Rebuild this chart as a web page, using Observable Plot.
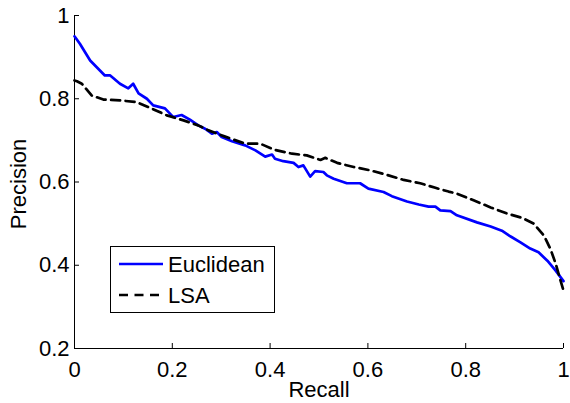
<!DOCTYPE html>
<html><head><meta charset="utf-8">
<script src="https://cdn.jsdelivr.net/npm/d3@7"></script>
<script src="https://cdn.jsdelivr.net/npm/@observablehq/plot@0.6"></script>
<style>
body{margin:0;background:#fff;}
svg{font-family:"Liberation Sans",Arial,Helvetica,sans-serif;}
</style>
</head><body><div id="chart"></div>
<script>
// Euclidean curve (recall, precision)
const recallEuclid = [0, 0.011, 0.032, 0.052, 0.062, 0.073, 0.093, 0.110, 0.120, 0.131, 0.148, 0.161, 0.185, 0.202, 0.219, 0.236, 0.253, 0.267, 0.281, 0.291, 0.301, 0.322, 0.349, 0.370, 0.390, 0.404, 0.410, 0.427, 0.448, 0.458, 0.468, 0.482, 0.492, 0.509, 0.516, 0.530, 0.557, 0.584, 0.601, 0.632, 0.649, 0.680, 0.704, 0.724, 0.738, 0.748, 0.769, 0.782, 0.823, 0.851, 0.874, 0.892, 0.912, 0.932, 0.949, 0.967, 0.984, 1.0];
const precEuclid = [0.950, 0.932, 0.892, 0.868, 0.856, 0.856, 0.836, 0.825, 0.836, 0.813, 0.800, 0.784, 0.777, 0.756, 0.761, 0.750, 0.736, 0.728, 0.716, 0.720, 0.708, 0.698, 0.688, 0.676, 0.661, 0.666, 0.656, 0.650, 0.646, 0.636, 0.640, 0.613, 0.626, 0.624, 0.616, 0.608, 0.597, 0.597, 0.584, 0.576, 0.566, 0.553, 0.546, 0.541, 0.541, 0.532, 0.530, 0.520, 0.503, 0.493, 0.483, 0.469, 0.455, 0.440, 0.431, 0.411, 0.387, 0.362];
// LSA curve
const recallLSA = [0, 0.005, 0.015, 0.035, 0.059, 0.093, 0.127, 0.155, 0.189, 0.223, 0.253, 0.274, 0.308, 0.349, 0.380, 0.410, 0.445, 0.475, 0.503, 0.513, 0.537, 0.571, 0.605, 0.639, 0.673, 0.707, 0.738, 0.765, 0.782, 0.816, 0.851, 0.885, 0.915, 0.939, 0.960, 0.973, 0.984, 0.994, 1.0];
const precLSA = [0.844, 0.842, 0.836, 0.808, 0.798, 0.796, 0.792, 0.778, 0.760, 0.748, 0.736, 0.724, 0.709, 0.692, 0.692, 0.677, 0.668, 0.664, 0.653, 0.658, 0.646, 0.636, 0.628, 0.617, 0.605, 0.597, 0.586, 0.577, 0.572, 0.556, 0.539, 0.524, 0.514, 0.500, 0.471, 0.440, 0.404, 0.363, 0.339];

const xTicks = [0, 0.2, 0.4, 0.6, 0.8, 1];
const yTicks = [0.2, 0.4, 0.6, 0.8, 1];
const seriesNames = ["Euclidean", "LSA"];
const xLabel = "Recall";
const yLabel = "Precision";

const euclid = recallEuclid.map((r, i) => ({r, p: precEuclid[i]}));
const lsa = recallLSA.map((r, i) => ({r, p: precLSA[i]}));

const FS = 22;
const chart = Plot.plot({
  width: 570, height: 403,
  marginLeft: 74, marginRight: 7, marginTop: 15, marginBottom: 55,
  style: {fontFamily: '"Liberation Sans", Arial, sans-serif', fontSize: FS + "px", color: "#000", background: "#fff", overflow: "visible"},
  x: {domain: [0, 1]},
  y: {domain: [0.2, 1]},
  marks: [
    Plot.ruleX([0], {stroke: "#000", strokeWidth: 1}),
    Plot.ruleY([0.2], {stroke: "#000", strokeWidth: 1}),
    Plot.axisX({ticks: xTicks, tickFormat: d => String(d), tickSize: -5, tickPadding: 18, fontSize: FS, label: null, stroke: "#000"}),
    Plot.axisY({ticks: yTicks, tickFormat: d => String(d), tickSize: -5, tickPadding: 10, fontSize: FS, label: null, stroke: "#000"}),
    Plot.line(euclid, {x: "r", y: "p", stroke: "#0000ff", strokeWidth: 2.7}),
    Plot.line(lsa, {x: "r", y: "p", stroke: "#000", strokeWidth: 2.7, strokeDasharray: "9,5.5"})
  ]
});
document.getElementById("chart").appendChild(chart);

const svg = d3.select(chart);
// axis titles
svg.append("text").attr("x", 319).attr("y", 397).attr("text-anchor", "middle")
  .attr("font-size", FS).attr("fill", "#000").text(xLabel);
svg.append("text").attr("transform", "translate(26,184) rotate(-90)").attr("text-anchor", "middle")
  .attr("font-size", FS).attr("fill", "#000").text(yLabel);
// legend
const lg = svg.append("g").attr("text-anchor", "start");
lg.append("rect").attr("x", 110.5).attr("y", 246.5).attr("width", 164).attr("height", 66)
  .attr("fill", "#fff").attr("stroke", "#000").attr("stroke-width", 1);
lg.append("line").attr("x1", 119).attr("x2", 163).attr("y1", 264).attr("y2", 264)
  .attr("stroke", "#0000ff").attr("stroke-width", 2.7);
lg.append("line").attr("x1", 119).attr("x2", 163).attr("y1", 295).attr("y2", 295)
  .attr("stroke", "#000").attr("stroke-width", 2.7).attr("stroke-dasharray", "9,6.5");
lg.append("text").attr("x", 168).attr("y", 272).attr("text-anchor", "start").attr("font-size", FS).attr("fill", "#000").text(seriesNames[0]);
lg.append("text").attr("x", 168).attr("y", 303).attr("text-anchor", "start").attr("font-size", FS).attr("fill", "#000").text(seriesNames[1]);
</script>
</body></html>
